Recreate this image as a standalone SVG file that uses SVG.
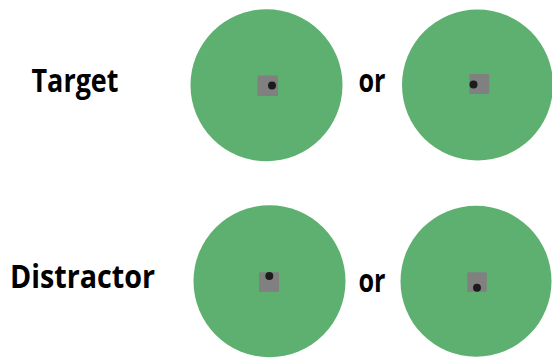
<svg xmlns="http://www.w3.org/2000/svg" width="552" height="360" viewBox="0 0 552 360">
  <style>
    .disc { fill: #5DB06F; }
    .patch { fill: #808080; }
    .dot { fill: #1C1C1C; }
    .lbl { font-family: "Open Sans", "Liberation Sans", sans-serif; font-weight: bold; font-size: 32px; fill: #000; }
  </style>
  <rect width="552" height="360" fill="#fff"/>

  <!-- row labels -->
  <g id="label-target"><text class="lbl" x="31.5" y="91.7" textLength="87" lengthAdjust="spacingAndGlyphs">Target</text></g>
  <g id="label-distractor"><text class="lbl" x="10" y="287.5" textLength="145" lengthAdjust="spacingAndGlyphs">Distractor</text></g>
  <g id="or-top"><text class="lbl" x="358.5" y="91.7" textLength="27" lengthAdjust="spacingAndGlyphs">or</text></g>
  <g id="or-bottom"><text class="lbl" x="358.5" y="291.7" textLength="27" lengthAdjust="spacingAndGlyphs">or</text></g>

  <!-- target stimuli -->
  <g id="target-a">
    <circle class="disc" cx="266.5" cy="85.2" r="76"/>
    <rect class="patch" x="257.5" y="75.5" width="20.5" height="20.5"/>
    <circle class="dot" cx="272" cy="85.5" r="4"/>
  </g>
  <g id="target-b">
    <circle class="disc" cx="477.5" cy="85" r="75.5"/>
    <rect class="patch" x="469.3" y="74" width="20" height="20"/>
    <circle class="dot" cx="473.5" cy="84.5" r="4"/>
  </g>

  <!-- distractor stimuli -->
  <g id="distractor-a">
    <circle class="disc" cx="269.5" cy="281.2" r="76"/>
    <rect class="patch" x="259" y="272.3" width="20" height="19.5"/>
    <circle class="dot" cx="269.3" cy="276" r="4"/>
  </g>
  <g id="distractor-b">
    <circle class="disc" cx="476" cy="281.2" r="75.5"/>
    <rect class="patch" x="467.3" y="272.3" width="19.5" height="19.5"/>
    <circle class="dot" cx="477" cy="287.7" r="4"/>
  </g>

  <g id="connectors"/>
</svg>
